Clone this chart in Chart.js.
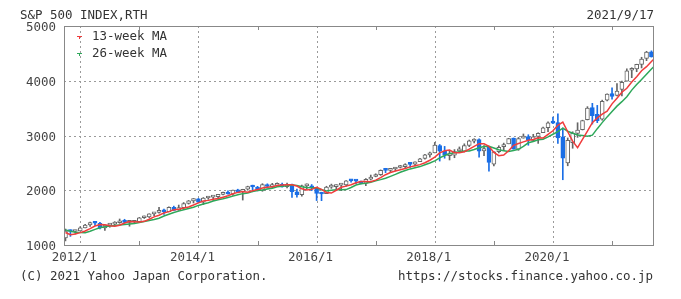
<!DOCTYPE html>
<html><head><meta charset="utf-8">
<script src="https://cdn.jsdelivr.net/npm/chart.js@4"></script>
<style>
html,body{margin:0;padding:0;background:#fff;width:681px;height:299px;overflow:hidden}
#wrap{position:relative;width:681px;height:299px}
canvas{position:absolute;left:0;top:0}
.t{position:absolute;font-family:"DejaVu Sans Mono",monospace;font-size:12.46px;color:#333;white-space:pre;line-height:14px}
.mk{position:absolute;height:1px;width:5px}
.mv{position:absolute;width:1px;height:2px}
</style></head><body>
<div id="wrap">
<canvas id="c" width="681" height="299"></canvas>
<div class="t" style="left:20px;top:8px">S&amp;P 500 INDEX,RTH</div>
<div class="t" style="right:27px;top:8px">2021/9/17</div>
<div class="t" style="left:20px;top:269px">(C) 2021 Yahoo Japan Corporation.</div>
<div class="t" style="right:28px;top:269px">https://stocks.finance.yahoo.co.jp</div>
<div class="mk" style="left:77px;top:36px;background:#f03c3c"></div>
<div class="mv" style="left:79px;top:37px;background:#f03c3c"></div>
<div class="t" style="left:92px;top:29px">13-week MA</div>
<div class="mk" style="left:77px;top:53px;background:#2ea85a"></div>
<div class="mv" style="left:79px;top:54px;background:#2ea85a"></div>
<div class="t" style="left:92px;top:46px">26-week MA</div>
</div>
<script>
// ---- data (monthly candles, S&P 500) ----
const months = [
 "2011/10","2011/11","2011/12",
 "2012/1","2012/2","2012/3","2012/4","2012/5","2012/6","2012/7","2012/8","2012/9","2012/10","2012/11","2012/12",
 "2013/1","2013/2","2013/3","2013/4","2013/5","2013/6","2013/7","2013/8","2013/9","2013/10","2013/11","2013/12",
 "2014/1","2014/2","2014/3","2014/4","2014/5","2014/6","2014/7","2014/8","2014/9","2014/10","2014/11","2014/12",
 "2015/1","2015/2","2015/3","2015/4","2015/5","2015/6","2015/7","2015/8","2015/9","2015/10","2015/11","2015/12",
 "2016/1","2016/2","2016/3","2016/4","2016/5","2016/6","2016/7","2016/8","2016/9","2016/10","2016/11","2016/12",
 "2017/1","2017/2","2017/3","2017/4","2017/5","2017/6","2017/7","2017/8","2017/9","2017/10","2017/11","2017/12",
 "2018/1","2018/2","2018/3","2018/4","2018/5","2018/6","2018/7","2018/8","2018/9","2018/10","2018/11","2018/12",
 "2019/1","2019/2","2019/3","2019/4","2019/5","2019/6","2019/7","2019/8","2019/9","2019/10","2019/11","2019/12",
 "2020/1","2020/2","2020/3","2020/4","2020/5","2020/6","2020/7","2020/8","2020/9","2020/10","2020/11","2020/12",
 "2021/1","2021/2","2021/3","2021/4","2021/5","2021/6","2021/7","2021/8","2021/9"
];
const opens = [
 1131,1251,1246,
 1258,1312,1366,1408,1398,1310,1362,1380,1407,1441,1412,1416,
 1426,1498,1515,1569,1597,1631,1610,1690,1636,1682,1758,1806,
 1845,1782,1858,1873,1884,1924,1962,1929,2004,1971,2018,2066,
 2059,1996,2105,2067,2088,2108,2067,2105,1970,1919,2080,2082,
 2038,1936,1937,2056,2067,2094,2099,2174,2171,2168,2129,2201,
 2251,2285,2381,2362,2388,2415,2431,2477,2475,2521,2583,2646,
 2683,2816,2715,2633,2643,2718,2705,2821,2896,2926,2717,2790,
 2477,2703,2798,2848,2953,2751,2953,2980,2910,2983,3051,3144,
 3244,3235,2974,2499,2870,3038,3105,3288,3508,3385,3296,3645,
 3764,3732,3842,3992,4192,4217,4300,4406,4528
];
const highs = [
 1292,1277,1270,
 1334,1378,1420,1422,1415,1363,1392,1427,1475,1470,1434,1448,
 1504,1530,1570,1598,1687,1654,1699,1710,1730,1775,1814,1849,
 1850,1867,1884,1897,1924,1968,1991,2005,2019,2018,2075,2093,
 2072,2120,2118,2126,2135,2130,2133,2113,2021,2094,2117,2104,
 2038,1963,2073,2112,2100,2120,2178,2194,2188,2169,2214,2278,
 2301,2372,2401,2398,2418,2454,2484,2491,2519,2582,2657,2695,
 2873,2835,2801,2718,2743,2791,2848,2917,2941,2940,2815,2800,
 2708,2813,2861,2949,2955,2964,3028,3014,3022,3050,3154,3248,
 3337,3394,3136,2955,3068,3233,3280,3527,3588,3550,3646,3760,
 3870,3950,3995,4218,4238,4302,4429,4538,4546
];
const lows = [
 1075,1158,1202,
 1258,1312,1341,1357,1292,1267,1325,1354,1396,1403,1343,1398,
 1426,1485,1501,1536,1581,1560,1605,1627,1633,1647,1747,1768,
 1770,1738,1834,1815,1863,1915,1930,1905,1964,1821,2001,1973,
 1988,1981,2040,2048,2068,2056,2044,1867,1872,1893,2019,1993,
 1812,1810,1937,2034,2025,1992,2074,2147,2119,2114,2084,2187,
 2245,2271,2322,2329,2352,2406,2407,2417,2446,2520,2566,2605,
 2683,2533,2585,2553,2594,2699,2699,2796,2864,2604,2631,2347,
 2444,2682,2723,2848,2751,2729,2952,2822,2892,2856,3050,3070,
 3214,2855,2192,2447,2767,2966,3101,3284,3209,3234,3279,3633,
 3662,3725,3723,3992,4056,4165,4234,4367,4432
];
const closes = [
 1253,1247,1258,
 1312,1366,1408,1398,1310,1362,1379,1407,1441,1412,1416,1426,
 1498,1515,1569,1598,1631,1606,1686,1633,1682,1757,1806,1848,
 1783,1859,1872,1884,1924,1960,1931,2003,1972,2018,2068,2059,
 1995,2105,2068,2086,2107,2063,2104,1972,1920,2079,2080,2044,
 1940,1932,2060,2065,2097,2099,2174,2171,2168,2126,2199,2239,
 2279,2364,2363,2384,2412,2423,2470,2472,2519,2575,2648,2674,
 2824,2714,2641,2648,2705,2718,2816,2902,2914,2712,2760,2507,
 2704,2784,2834,2946,2752,2942,2980,2926,2977,3038,3141,3231,
 3226,2954,2585,2912,3044,3100,3271,3500,3363,3270,3622,3756,
 3714,3811,3973,4181,4204,4298,4395,4523,4433
];
// moving-average lines, read per month start plus the last date
const maDates = months.concat(["2021/9/17"]);
const ma13 = [
 1228,1188,1202,
 1226,1257,1299,1347,1376,1372,1350,1341,1362,1402,1428,1425,
 1418,1432,1471,1514,1544,1586,1609,1642,1652,1675,1693,1730,
 1770,1804,1815,1834,1848,1873,1900,1937,1961,1976,1964,1991,
 2012,2042,2055,2063,2086,2095,2102,2102,2078,2026,2003,2016,
 2053,2017,1959,1948,2000,2054,2075,2100,2137,2161,2159,2155,
 2185,2229,2284,2324,2352,2373,2396,2427,2448,2468,2502,2548,
 2605,2683,2720,2733,2687,2686,2703,2750,2802,2851,2848,2803,
 2692,2632,2643,2722,2821,2854,2883,2913,2928,2959,2953,3022,
 3086,3186,3244,3069,2897,2778,2929,3078,3235,3321,3392,3444,
 3578,3679,3791,3863,3978,4073,4182,4257,4352,
 4397
];
const ma26 = [
 1276,1253,1234,
 1227,1223,1250,1286,1316,1335,1349,1358,1367,1376,1384,1393,
 1410,1430,1448,1466,1488,1529,1562,1593,1619,1642,1667,1691,
 1723,1748,1773,1802,1826,1844,1867,1893,1917,1938,1950,1976,
 1994,2003,2023,2038,2064,2075,2083,2094,2087,2064,2052,2047,
 2040,2010,1987,2000,2009,2007,2012,2050,2096,2118,2129,2146,
 2173,2194,2220,2254,2290,2329,2360,2390,2411,2432,2465,2498,
 2536,2592,2634,2669,2685,2703,2718,2719,2744,2777,2799,2803,
 2772,2740,2723,2707,2727,2748,2802,2867,2891,2921,2933,2975,
 3023,3070,3133,3078,3042,3011,2999,2988,3006,3125,3235,3340,
 3438,3536,3618,3709,3829,3932,4023,4118,4213,
 4262
];
const yTicks = [1000, 2000, 3000, 4000, 5000];
const yGrid = [2000, 3000, 4000];
const xLabelYears = [2012, 2014, 2016, 2018, 2020];
const xMinorYears = [2013, 2015, 2017, 2019, 2021];

// ---- helpers ----
function toYear(s){ const p = s.split('/').map(Number); return p[0] + (p[1]-1)/12 + ((p[2]||1)-1)/365; }
const xs = months.map(toYear);
const isUp = closes.map((c,i)=> c >= opens[i]);
const BLUE = '#1a6ee6', RED = '#f03c3c', GREEN = '#2ea85a', GREY = '#666';
const FONT = {family:'"DejaVu Sans Mono", monospace', size:12.46};

const framePlugin = {
  id:'frame',
  beforeDatasetsDraw(chart){
    const {ctx, chartArea:a, scales:{x,y}} = chart;
    ctx.save();
    ctx.strokeStyle = '#9a9a9a'; ctx.lineWidth = 1; ctx.setLineDash([2,3]);
    xLabelYears.forEach(v=>{ const px = Math.round(x.getPixelForValue(v))+0.5; ctx.beginPath(); ctx.moveTo(px,a.top); ctx.lineTo(px,a.bottom); ctx.stroke(); });
    yGrid.forEach(v=>{ const py = Math.round(y.getPixelForValue(v))+0.5; ctx.beginPath(); ctx.moveTo(a.left,py); ctx.lineTo(a.right,py); ctx.stroke(); });
    ctx.restore();
  },
  afterDatasetsDraw(chart){
    const {ctx, chartArea:a, scales:{x}} = chart;
    ctx.save();
    ctx.strokeStyle = '#888'; ctx.lineWidth = 1; ctx.setLineDash([]);
    ctx.strokeRect(Math.round(a.left)+0.5, Math.round(a.top)+0.5, Math.round(a.right-a.left)-1, Math.round(a.bottom-a.top));
    xMinorYears.forEach(v=>{ const px = Math.round(x.getPixelForValue(v))+0.5;
      ctx.beginPath(); ctx.moveTo(px,a.top); ctx.lineTo(px,a.top+4); ctx.stroke();
      ctx.beginPath(); ctx.moveTo(px,a.bottom); ctx.lineTo(px,a.bottom-4); ctx.stroke(); });
    ctx.restore();
  }
};

new Chart(document.getElementById('c'), {
  data:{
    datasets:[
      {type:'line', label:'13-week MA', data: maDates.map((d,i)=>({x:toYear(d), y:ma13[i]})), borderColor:RED, borderWidth:1.5, pointRadius:0, tension:0, order:0},
      {type:'line', label:'26-week MA', data: maDates.map((d,i)=>({x:toYear(d), y:ma26[i]})), borderColor:GREEN, borderWidth:1.5, pointRadius:0, tension:0, order:0},
      {type:'bar', label:'body', data: xs.map((x,i)=>({x, y:[opens[i], closes[i]]})),
        backgroundColor: c=> isUp[c.dataIndex] ? '#ffffff' : BLUE,
        borderColor: c=> isUp[c.dataIndex] ? GREY : BLUE,
        borderWidth:1, borderSkipped:false, barThickness:4, minBarLength:2, grouped:false, order:1},
      {type:'bar', label:'wick', data: xs.map((x,i)=>({x, y:[lows[i], highs[i]]})),
        backgroundColor: c=> isUp[c.dataIndex] ? GREY : BLUE,
        borderWidth:0, barThickness:1, grouped:false, order:2}
    ]
  },
  options:{
    responsive:false, animation:false, devicePixelRatio:1,
    layout:{padding:{top:26, right:27, left:0, bottom:0}},
    plugins:{legend:{display:false}, tooltip:{enabled:false}},
    scales:{
      x:{type:'linear', position:'bottom', min:2011.725, max:2021.71, offset:false,
        afterFit: s=>{ s.height = 54; },
        afterBuildTicks: s=>{ s.ticks = xLabelYears.map(v=>({value:v})); },
        grid:{display:false, drawTicks:false, offset:false}, border:{display:false},
        ticks:{font:FONT, color:'#444', padding:5, labelOffset:-6, autoSkip:false, maxRotation:0, callback:v=> v + '/1'}},
      y:{type:'linear', position:'left', min:1000, max:5000,
        afterFit: s=>{ s.width = 64; },
        afterBuildTicks: s=>{ s.ticks = yTicks.map(v=>({value:v})); },
        grid:{display:false, drawTicks:false}, border:{display:false},
        ticks:{font:FONT, color:'#444', padding:8, labelOffset:2, callback:v=> String(v)}}
    }
  },
  plugins:[framePlugin]
});
</script>
</body></html>
